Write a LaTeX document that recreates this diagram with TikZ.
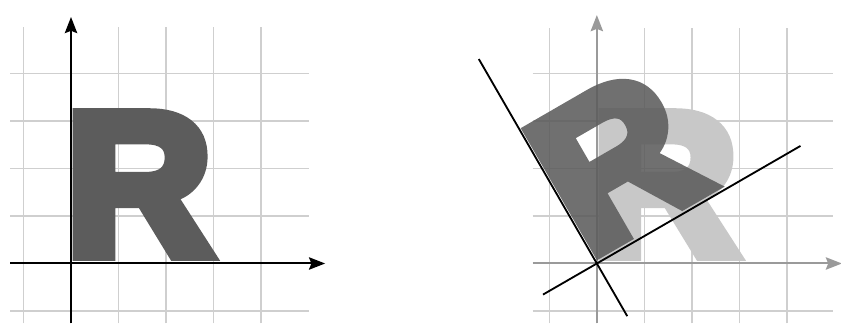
\documentclass[tikz,border=0pt]{standalone}
\usepackage{fontspec}
\usepackage{tikz}
\usetikzlibrary{arrows.meta}
\newfontfamily\heavyfont{Liberation Sans}[UprightFont=* Bold, FakeBold=6.7]
\definecolor{gridgray}{HTML}{CFCFCF}
\definecolor{axisgray}{HTML}{9A9A9A}
\definecolor{letterdark}{HTML}{5C5C5C}
\definecolor{letterlight}{HTML}{C8C8C8}

\begin{document}
\begin{tikzpicture}[
    >={Stealth[length=3.4mm, width=2.6mm, inset=0.5mm]},
    gridln/.style={gridgray, line width=1pt},
    axis/.style={->, black, line width=1.2pt},
    oldaxis/.style={->, axisgray, line width=1.2pt},
    newaxis/.style={black, line width=1.1pt},
    letter/.style={
        anchor=base west, inner sep=0pt, xshift=-0.113cm, yshift=0.2cm, xscale=1.0,
        font=\heavyfont\fontsize{121}{121}\selectfont
    }
]

\useasboundingbox (-1.495,-1.253) rectangle (16.21,5.547);

% LEFT: ORIGINAL POSITION
\foreach \y in {-1,...,4}
    \draw[gridln] (-1.28,\y) -- (5.0,\y);
\foreach \x in {-1,...,4}
    \draw[gridln] (\x,-1.26) -- (\x,4.97);

\node[letter, text=letterdark] (orig) at (0,0) {R};

\draw[axis] (-1.28,0) -- (5.35,0);
\draw[axis] (0,-1.26) -- (0,5.19);

% RIGHT: ROTATED BY 30 DEGREES
\begin{scope}[xshift=11.07cm]
    \foreach \y in {-1,...,4}
        \draw[gridln] (-1.35,\y) -- (4.97,\y);
    \foreach \x in {-1,...,4}
        \draw[gridln] (\x,-1.26) -- (\x,4.95);

    \draw[oldaxis] (-1.35,0) -- (5.16,0);
    \draw[oldaxis] (0,-1.26) -- (0,5.23);

    \node[letter, text=letterlight] (ghost) at (0,0) {R};

    \begin{scope}[rotate=30, transform shape]
        \begin{scope}[transparency group, opacity=0.88]
            \node[letter, text=letterdark] (turned) at (0,0) {R};
        \end{scope}
        \draw[newaxis] (-1.31,0) -- (4.95,0);
        \draw[newaxis] (0,-1.28) -- (0,4.97);
    \end{scope}
\end{scope}

\end{tikzpicture}
\end{document}
